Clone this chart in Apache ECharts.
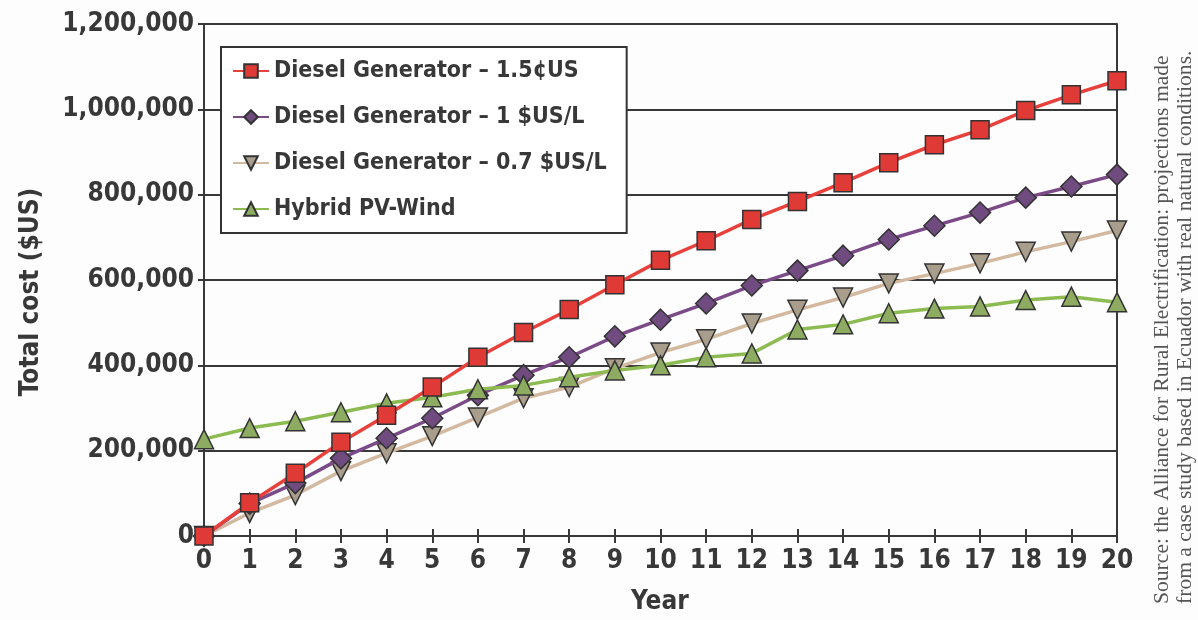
<!DOCTYPE html>
<html>
<head>
<meta charset="utf-8">
<script src="https://cdn.jsdelivr.net/npm/echarts@6/dist/echarts.min.js"></script>
<style>
  html, body { margin: 0; padding: 0; background: #fefdfd; }
  #chart { width: 1198px; height: 620px; }
</style>
</head>
<body>
<div id="chart"></div>
<script>
// Years of operation
const years = ['0','1','2','3','4','5','6','7','8','9','10','11','12','13','14','15','16','17','18','19','20'];

// Cumulative total cost ($US) per scenario
const diesel15c = [0, 78000, 147000, 220000, 283000, 349000, 419000, 477000, 531000, 589000, 646000,
                   692000, 742000, 784000, 828000, 875000, 917000, 952000, 997000, 1034000, 1067000];
const diesel1L  = [0, 76000, 124000, 182000, 229000, 276000, 330000, 377000, 419000, 468000, 507000,
                   545000, 587000, 622000, 657000, 695000, 727000, 758000, 793000, 819000, 847000];
const diesel07L = [0, 54000, 96000, 152000, 194000, 234000, 278000, 323000, 349000, 393000, 430000,
                   461000, 498000, 530000, 559000, 592000, 615000, 639000, 666000, 690000, 716000];
const hybrid    = [227000, 253000, 269000, 290000, 311000, 325000, 344000, 353000, 372000, 388000, 400000,
                   419000, 428000, 484000, 496000, 522000, 533000, 538000, 553000, 561000, 548000];

const seriesNames = [
  'Diesel Generator \u2013 1.5\u00A2US',
  'Diesel Generator \u2013 1 $US/L',
  'Diesel Generator \u2013 0.7 $US/L',
  'Hybrid PV-Wind'
];

const yTicks = { min: 0, max: 1200000, interval: 200000 };

const FONT = '"DejaVu Sans Condensed", "DejaVu Sans", sans-serif';
const INK = '#383838';

const chart = echarts.init(document.getElementById('chart'));

function lineSeries(name, data, lineColor, fill, symbol, size, z) {
  return {
    name: name,
    type: 'line',
    data: data,
    symbol: symbol,
    symbolSize: size,
    lineStyle: { color: lineColor, width: 3.5 },
    itemStyle: { color: fill, borderColor: '#333', borderWidth: 1.5 },
    emphasis: { disabled: true },
    z: z
  };
}

const downTri = 'path://M0,0 L20,0 L10,18 Z';

chart.setOption({
  backgroundColor: '#fefdfd',
  animation: false,
  grid: { left: 204, right: 81, top: 24, bottom: 84 },
  legend: {
    orient: 'vertical',
    left: 221,
    top: 47,
    padding: [11, 20, 11, 11],
    itemGap: 20,
    itemWidth: 36,
    itemHeight: 17,
    backgroundColor: '#ffffff',
    borderColor: '#333',
    borderWidth: 2,
    borderRadius: 0,
    textStyle: { fontFamily: FONT, fontWeight: 'bold', fontSize: 23, color: INK, lineHeight: 26 },
    data: seriesNames
  },
  xAxis: [
    {
      type: 'category',
      data: years,
      boundaryGap: false,
      axisLine: { lineStyle: { color: INK, width: 2 } },
      axisTick: { show: true, length: 7, lineStyle: { color: INK, width: 2 } },
      axisLabel: { fontFamily: FONT, fontWeight: 'bold', fontSize: 26, color: INK, margin: 12 },
      splitLine: { show: false }
    },
    {
      type: 'category',
      data: years,
      boundaryGap: false,
      position: 'bottom',
      axisLine: { show: false },
      axisTick: { show: true, inside: true, length: 7, lineStyle: { color: INK, width: 2 } },
      axisLabel: { show: false },
      splitLine: { show: false }
    }
  ],
  yAxis: [
    {
      type: 'value',
      min: yTicks.min,
      max: yTicks.max,
      interval: yTicks.interval,
      axisLine: { show: true, lineStyle: { color: INK, width: 2 } },
      axisTick: { show: true, length: 6, lineStyle: { color: INK, width: 2 } },
      axisLabel: {
        fontFamily: FONT, fontWeight: 'bold', fontSize: 26, color: INK, margin: 10,
        formatter: v => v.toLocaleString('en-US')
      },
      splitLine: { show: true, lineStyle: { color: INK, width: 2 } }
    },
    {
      type: 'value',
      min: yTicks.min,
      max: yTicks.max,
      interval: yTicks.interval,
      position: 'right',
      axisLine: { show: true, lineStyle: { color: INK, width: 2 } },
      axisTick: { show: false },
      axisLabel: { show: false },
      splitLine: { show: false }
    }
  ],
  series: [
    lineSeries(seriesNames[0], diesel15c, '#e8403b', '#df3a35', 'rect', 18, 6),
    lineSeries(seriesNames[1], diesel1L, '#7b4b88', '#6f4b7f', 'diamond', 21, 5),
    lineSeries(seriesNames[2], diesel07L, '#d2b9a0', '#a99d8c', downTri, 19, 4),
    lineSeries(seriesNames[3], hybrid, '#8cbb52', '#8dac62', 'triangle', 19, 5)
  ],
  graphic: [
    {
      type: 'text',
      left: 631, top: 589,
      style: { text: 'Year', fontFamily: FONT, fontWeight: 'bold', fontSize: 26, fill: INK }
    },
    {
      type: 'text',
      x: 31, y: 292,
      rotation: Math.PI / 2,
      style: {
        text: 'Total cost ($US)', fontFamily: FONT, fontWeight: 'bold', fontSize: 26, fill: INK,
        align: 'center', verticalAlign: 'middle'
      }
    },
    {
      type: 'text',
      x: 1162, y: 604,
      rotation: Math.PI / 2,
      style: {
        text: 'Source: the Alliance for Rural Electrification: projections made',
        fontFamily: '"Liberation Serif", serif', fontSize: 21.6, fill: '#555',
        align: 'left', verticalAlign: 'middle'
      }
    },
    {
      type: 'text',
      x: 1185, y: 604,
      rotation: Math.PI / 2,
      style: {
        text: 'from a case study based in Ecuador with real natural conditions.',
        fontFamily: '"Liberation Serif", serif', fontSize: 21.6, fill: '#555',
        align: 'left', verticalAlign: 'middle'
      }
    }
  ]
});
</script>
</body>
</html>
